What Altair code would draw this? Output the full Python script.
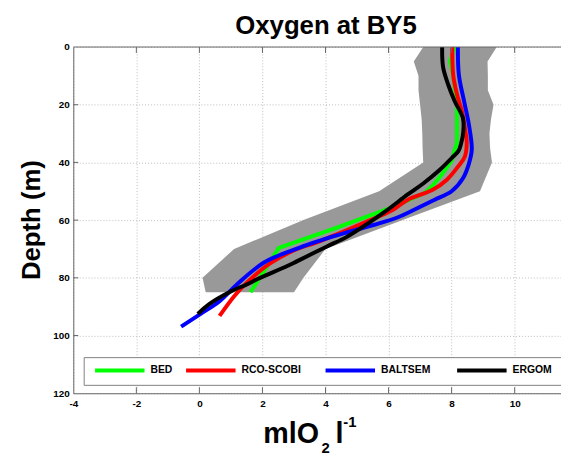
import altair as alt
import pandas as pd

# ---- data ----
band_depth = [0, 5, 10, 15, 20, 25, 30, 35, 40, 50, 60, 70, 80, 85]
band_lo = [7.1, 6.8, 6.95, 6.95, 7.0, 7.05, 7.07, 7.08, 7.1, 5.7, 3.3, 1.1, 0.1, 0.2]
band_hi = [9.43, 9.14, 9.15, 9.15, 9.33, 9.25, 9.2, 9.22, 9.28, 8.9, 6.45, 4.0, 3.3, 3.0]

bed_d = [0, 5, 10, 20, 33, 39.5, 44, 48, 50.5, 55.5, 62.7, 69.6, 85]
bed_v = [8.1, 7.95, 8.05, 8.17, 8.17, 8.0, 7.7, 7.4, 7.15, 6.13, 4.34, 2.52, 1.62]

rco_d = [0, 9.6, 16.4, 22.3, 28, 33, 38, 41.5, 46, 49.5, 53, 56.5, 60.5, 65, 67.8, 70, 75, 81.5, 86.3, 93.2]
rco_v = [8.02, 8.05, 8.17, 8.33, 8.42, 8.48, 8.42, 8.2, 7.85, 7.4, 6.6, 6.13, 5.3, 4.34, 3.7, 3.1, 2.24, 1.52, 1.11, 0.64]

bal_d = [0, 9.6, 19, 27, 35.5, 40.4, 45.5, 50, 53, 57, 59, 61.6, 64.5, 67, 69.5, 74.7, 82.2, 88, 92.5, 96.9]
bal_v = [8.2, 8.23, 8.4, 8.55, 8.64, 8.55, 8.36, 8.0, 7.45, 6.7, 6.3, 5.55, 4.6, 3.85, 3.18, 2.05, 1.2, 0.65, 0.04, -0.58]

erg_d = [0, 7, 13, 18.8, 24.7, 29.5, 33.5, 36, 38.4, 42.8, 47.3, 51, 56.8, 61.5, 65.8, 69.2, 74.3, 76, 80.5, 82.2, 84.8, 89, 92.5]
erg_v = [7.7, 7.73, 7.89, 8.1, 8.36, 8.37, 8.3, 8.22, 8.01, 7.6, 7.1, 6.62, 5.92, 5.3, 4.68, 4.03, 3.09, 2.77, 1.83, 1.52, 0.98, 0.32, -0.05]

series_names = ["BED", "RCO-SCOBI", "BALTSEM", "ERGOM"]
series_colors = ["#00ff00", "#ff0000", "#0000ff", "#000000"]
series_interp = ["linear", "catmull-rom", "catmull-rom", "catmull-rom"]
series_data = [(bed_d, bed_v), (rco_d, rco_v), (bal_d, bal_v), (erg_d, erg_v)]

x_ticks = [-4, -2, 0, 2, 4, 6, 8, 10]
y_ticks = [0, 20, 40, 60, 80, 100, 120]

# ---- layout ----
W, H = 493, 350
FONT = "Liberation Sans"
AXC = "#666666"

XS = alt.Scale(domain=[-4, 11.47], nice=False, zero=False)
YS = alt.Scale(domain=[0, 120], reverse=True, nice=False, zero=False)
XA = alt.Axis(values=x_ticks, title=None, grid=True, gridColor="#bdbdbd", gridDash=[1, 2],
              ticks=False, tickSize=0, labelFont=FONT, labelFontSize=10, labelFontWeight="bold",
              labelColor="black", labelPadding=5, labelFlush=False, labelOverlap=False,
              domainColor=AXC, labelExpr="toString(datum.value)")
YA = alt.Axis(values=y_ticks, title=None, grid=True, gridColor="#bdbdbd", gridDash=[1, 2],
              ticks=False, tickSize=0, labelFont=FONT, labelFontSize=10, labelFontWeight="bold",
              labelColor="black", labelPadding=4, labelOverlap=False, domainColor=AXC,
              labelExpr="toString(datum.value)")

band_df = pd.DataFrame({"d": band_depth, "lo": band_lo, "hi": band_hi})
band = alt.Chart(band_df).mark_area(color="#999999").encode(
    y=alt.Y("d:Q", scale=YS, axis=YA),
    x=alt.X("lo:Q", scale=XS, axis=XA),
    x2=alt.X2("hi:Q"),
)

layers = [band]
for (d, v), c, ip in zip(series_data, series_colors, series_interp):
    df = pd.DataFrame({"d": d, "v": v})
    layers.append(
        alt.Chart(df).mark_line(strokeWidth=4, color=c, interpolate=ip).encode(
            x=alt.X("v:Q", scale=XS, axis=XA),
            y=alt.Y("d:Q", scale=YS, axis=YA),
            order="d:Q",
        )
    )

one = pd.DataFrame({"k": [0]})

# inward ticks and top border
xt_df = pd.DataFrame({"t": x_ticks[1:]})
yt_df = pd.DataFrame({"t": y_ticks[1:-1]})
layers.append(alt.Chart(xt_df).mark_rule(color=AXC).encode(
    x=alt.X("t:Q", scale=XS, axis=XA), y=alt.value(H), y2=alt.value(H - 6)))
layers.append(alt.Chart(xt_df).mark_rule(color=AXC).encode(
    x=alt.X("t:Q", scale=XS, axis=XA), y=alt.value(0), y2=alt.value(6)))
layers.append(alt.Chart(yt_df).mark_rule(color=AXC).encode(
    y=alt.Y("t:Q", scale=YS, axis=YA), x=alt.value(0), x2=alt.value(5)))
layers.append(alt.Chart(one).mark_rule(color=AXC).encode(
    x=alt.value(0), x2=alt.value(W + 5), y=alt.value(0)))

# legend box
layers.append(alt.Chart(one).mark_rect(fill="white", stroke="#808080", strokeWidth=1).encode(
    x=alt.value(11), x2=alt.value(W + 10), y=alt.value(314), y2=alt.value(342)))
legend_x = [22, 114, 255, 388]
for name, c, lx in zip(series_names, series_colors, legend_x):
    layers.append(alt.Chart(one).mark_rule(color=c, strokeWidth=4).encode(
        x=alt.value(lx), x2=alt.value(lx + 50), y=alt.value(327)))
    layers.append(alt.Chart(one).mark_text(
        text=name, font=FONT, fontSize=10.5, fontWeight="bold", color="black",
        align="left", baseline="middle").encode(x=alt.value(lx + 56), y=alt.value(327)))

# titles
def txt(s, x, y, size, angle=0, align="left", weight="bold"):
    return alt.Chart(one).mark_text(text=s, font=FONT, fontSize=size, fontWeight=weight,
                                    color="black", align=align, baseline="alphabetic",
                                    angle=angle).encode(x=alt.value(x), y=alt.value(y))

layers.append(txt("Oxygen at BY5", 255.5, -13.3, 26, align="center"))
layers.append(txt("Depth (m)", -33.4, 175, 26, angle=270, align="center"))
layers.append(txt("mlO", 192, 400, 29))
layers.append(txt("2", 251, 410, 15))
layers.append(txt("l", 265, 400, 29))
layers.append(txt("-1", 273, 384, 15))

chart = alt.layer(*layers).properties(
    width=W, height=H,
    padding={"left": 66, "top": 37, "right": 0, "bottom": 60},
    autosize=alt.AutoSizeParams(type="none"),
    background="white",
).configure_view(stroke=None)

chart.save("out.html", embed_options={"renderer": "svg", "actions": False})
